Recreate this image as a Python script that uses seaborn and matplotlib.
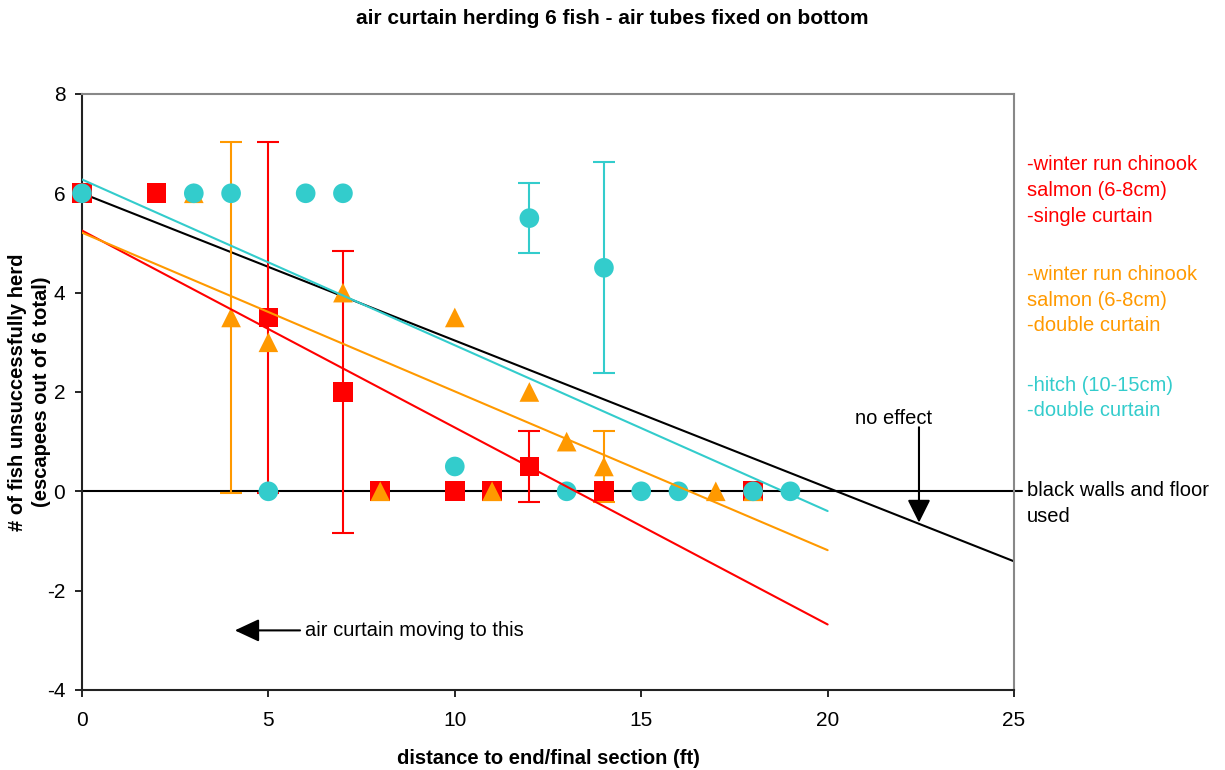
import numpy as np
import pandas as pd
import matplotlib
matplotlib.use("Agg")
import matplotlib.pyplot as plt
import seaborn as sns

# winter run chinook salmon (6-8cm), single curtain
red_x = [0, 2, 5, 7, 8, 10, 11, 12, 14, 18]
red_y = [6, 6, 3.5, 2, 0, 0, 0, 0.5, 0, 0]
red_err = [0, 0, 3.54, 2.83, 0, 0, 0, 0.71, 0, 0]

# winter run chinook salmon (6-8cm), double curtain
orange_x = [3, 4, 5, 7, 8, 10, 11, 12, 13, 14, 17, 18]
orange_y = [6, 3.5, 3, 4, 0, 3.5, 0, 2, 1, 0.5, 0, 0]
orange_err = [0, 3.54, 0, 0, 0, 0, 0, 0, 0, 0.71, 0, 0]

# hitch (10-15cm), double curtain
cyan_x = [0, 3, 4, 5, 6, 7, 10, 12, 13, 14, 15, 16, 18, 19]
cyan_y = [6, 6, 6, 0, 6, 6, 0.5, 5.5, 0, 4.5, 0, 0, 0, 0]
cyan_err = [0, 0, 0, 0, 0, 0, 0, 0.71, 0, 2.12, 0, 0, 0, 0]

# "no effect" reference line
noeffect_x = [0, 25]
noeffect_y = [6, -1.41]

trend_end = 20

RED = "#FF0000"
ORANGE = "#FF9900"
CYAN = "#33CCCC"

sns.set_theme(style="white")
plt.rcParams["font.family"] = ["Liberation Sans", "DejaVu Sans"]
plt.rcParams["axes.unicode_minus"] = False
plt.rcParams["text.color"] = "black"
plt.rcParams["axes.labelcolor"] = "black"

fig, ax = plt.subplots(figsize=(12.25, 7.7), dpi=100)
fig.subplots_adjust(left=0.0669, right=0.8278, top=0.878, bottom=0.1039)

series = [
    (red_x, red_y, red_err, RED, "s"),
    (orange_x, orange_y, orange_err, ORANGE, "^"),
    (cyan_x, cyan_y, cyan_err, CYAN, "o"),
]

# baseline at zero
ax.plot([0, 25.2], [0, 0], color="black", lw=1.5, clip_on=False, zorder=2)
ax.plot(noeffect_x, noeffect_y, color="black", lw=1.5, zorder=2)

for i, (xs, ys, err, col, mk) in enumerate(series):
    df = pd.DataFrame({"x": xs, "y": ys, "err": err})
    eb = df[df["err"] > 0]
    ax.errorbar(eb["x"], eb["y"], yerr=eb["err"], fmt="none", ecolor=col,
                elinewidth=1.5, capsize=8, capthick=1.5, zorder=3 + i)
    sns.scatterplot(data=df, x="x", y="y", marker=mk, color=col, s=200,
                    edgecolor="none", ax=ax, zorder=6 + i, legend=False, clip_on=False)
    # linear trendline like the spreadsheet one
    slope, icpt = np.polyfit(df["x"], df["y"], 1)
    tx = np.array([0, trend_end])
    ax.plot(tx, icpt + slope * tx, color=col, lw=1.5, zorder=10)

ax.set_xlim(0, 25)
ax.set_ylim(-4, 8)
ax.set_xticks(range(0, 26, 5))
ax.set_yticks(range(-4, 9, 2))
ax.tick_params(axis="both", labelsize=15, length=5, width=1.2, direction="out",
               colors="black", bottom=True, left=True)
ax.tick_params(axis="x", pad=10)
ax.tick_params(axis="y", pad=7)
for side in ["left", "bottom"]:
    ax.spines[side].set_color("#222222")
    ax.spines[side].set_linewidth(1.5)
for side in ["top", "right"]:
    ax.spines[side].set_color("#888888")
    ax.spines[side].set_linewidth(1.5)

ax.set_xlabel("distance to end/final section (ft)", fontsize=14.5, fontweight="bold",
              labelpad=14, color="black")
ax.set_ylabel("# of fish unsuccessfully herd\n(escapees out of 6 total)", fontsize=14.5,
              fontweight="bold", labelpad=-3, linespacing=1.3, color="black")
fig.suptitle("air curtain herding 6 fish - air tubes fixed on bottom", fontsize=15,
             fontweight="bold", y=1 - 18 / 770, x=0.5, va="center", color="black")

# annotations
ax.annotate("", xy=(22.45, -0.63), xytext=(22.45, 1.29),
            arrowprops=dict(arrowstyle="-|>,head_length=1.4,head_width=0.7",
                            mutation_scale=10, color="black", lw=1.5, shrinkA=0, shrinkB=0))
ax.text(21.78, 1.47, "no effect", fontsize=14.5, ha="center", va="center", color="black")
ax.annotate("", xy=(4.1, -2.8), xytext=(5.85, -2.8),
            arrowprops=dict(arrowstyle="-|>,head_length=1.5,head_width=0.7",
                            mutation_scale=10, color="black", lw=1.5, shrinkA=0, shrinkB=0))
ax.text(5.98, -2.8, "air curtain moving to this", fontsize=14.5, ha="left", va="center",
        color="black")

tx = 25.35
ax.text(tx, 6.06, "-winter run chinook\nsalmon (6-8cm)\n-single curtain", color=RED,
        fontsize=14.5, ha="left", va="center", linespacing=1.45, clip_on=False)
ax.text(tx, 3.85, "-winter run chinook\nsalmon (6-8cm)\n-double curtain", color=ORANGE,
        fontsize=14.5, ha="left", va="center", linespacing=1.45, clip_on=False)
ax.text(tx, 1.88, "-hitch (10-15cm)\n-double curtain", color=CYAN,
        fontsize=14.5, ha="left", va="center", linespacing=1.45, clip_on=False)
ax.text(tx, -0.24, "black walls and floor\nused", color="black",
        fontsize=14.5, ha="left", va="center", linespacing=1.45, clip_on=False)

fig.savefig("out.png", dpi=100)
